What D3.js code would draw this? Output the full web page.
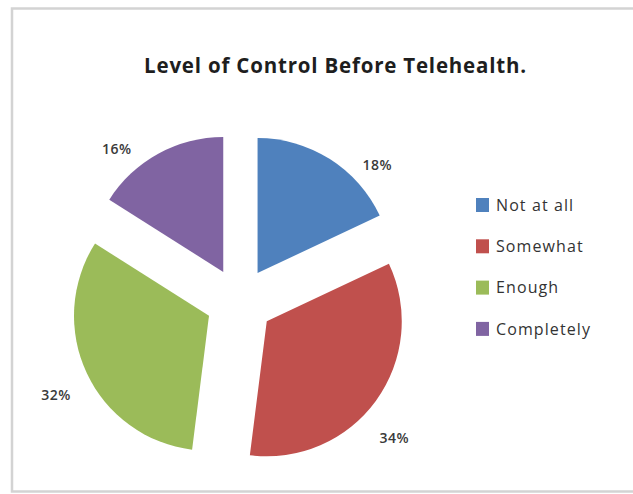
<!DOCTYPE html>
<html>
<head>
<meta charset="utf-8">
<script src="https://cdn.jsdelivr.net/npm/d3@7"></script>
<style>
  html, body { margin: 0; padding: 0; background: #ffffff; }
  svg { display: block; }
  text { font-family: "Open Sans", Lato, "Liberation Sans", sans-serif; }
</style>
</head>
<body>
<svg id="chart" width="633" height="494"></svg>
<script>
// Survey responses: level of control before telehealth
const categories = ["Not at all", "Somewhat", "Enough", "Completely"];
const shares = [18, 34, 32, 16];
const percentLabels = ["18%", "34%", "32%", "16%"];
const colors = ["#4F81BD", "#C0504D", "#9BBB59", "#8064A2"];
const title = "Level of Control Before Telehealth.";

const svg = d3.select("#chart");
const W = 633, H = 494;

// chart frame
svg.append("rect")
  .attr("x", 12).attr("y", 8.5)
  .attr("width", W + 20).attr("height", 483)
  .attr("fill", "#ffffff")
  .attr("stroke", "#d3d3d3")
  .attr("stroke-width", 2.5);

svg.append("text")
  .attr("x", 335.5).attr("y", 73)
  .attr("text-anchor", "middle")
  .attr("font-weight", "bold")
  .attr("font-size", 20.5)
  .attr("letter-spacing", 0.8)
  .attr("fill", "#1e1e1e")
  .text(title);

// exploded pie
const cx = 239.5, cy = 301.5;
const radius = 135;
const explode = 33.7;

const pie = d3.pie().sort(null).value(d => d);
const arcs = pie(shares);
const arc = d3.arc().innerRadius(0).outerRadius(radius);

const g = svg.append("g").attr("transform", `translate(${cx},${cy})`);

const mid = d => (d.startAngle + d.endAngle) / 2;

const slices = g.selectAll("g.slice")
  .data(arcs)
  .join("g")
  .attr("class", "slice")
  .attr("transform", d => {
    const a = mid(d);
    return `translate(${explode * Math.sin(a)},${-explode * Math.cos(a)})`;
  });

slices.append("path")
  .attr("d", arc)
  .attr("fill", (d, i) => colors[i]);

// percentage labels set outside each slice (angle shift in degrees, distance from slice tip)
const labelPlace = [
  { shift: 15.6, dist: 161 },
  { shift: 6.5, dist: 173 },
  { shift: -2, dist: 172 },
  { shift: -12, dist: 163 }
];

slices.append("text")
  .attr("transform", (d, i) => {
    const a = mid(d) + labelPlace[i].shift * Math.PI / 180;
    const r = labelPlace[i].dist;
    return `translate(${r * Math.sin(a)},${-r * Math.cos(a)})`;
  })
  .attr("text-anchor", "middle")
  .attr("dy", "0.36em")
  .attr("font-size", 14)
  .attr("font-weight", 600)
  .attr("letter-spacing", 0.5)
  .attr("fill", "#3a3a3a")
  .text((d, i) => percentLabels[i]);

// legend
const legend = svg.append("g").attr("transform", "translate(476,205)");
const rows = legend.selectAll("g")
  .data(categories)
  .join("g")
  .attr("transform", (d, i) => `translate(0,${i * 41.3})`);

rows.append("rect")
  .attr("x", 0).attr("y", -7)
  .attr("width", 13).attr("height", 14)
  .attr("fill", (d, i) => colors[i]);

rows.append("text")
  .attr("x", 20)
  .attr("dy", "0.36em")
  .attr("font-size", 16)
  .attr("letter-spacing", 1.1)
  .attr("fill", "#333333")
  .text(d => d);
</script>
</body>
</html>
